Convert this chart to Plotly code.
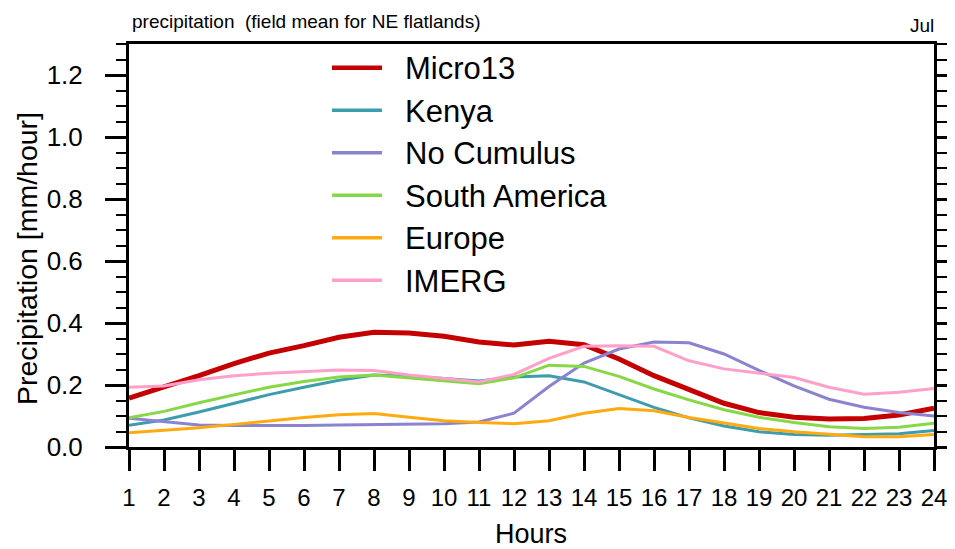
import plotly.graph_objects as go

hours = list(range(1, 25))
x_tick_labels = [str(h) for h in hours]

series_names = ["Micro13", "Kenya", "No Cumulus", "South America", "Europe", "IMERG"]
micro13 = [0.158, 0.193, 0.230, 0.269, 0.303, 0.327, 0.354, 0.370, 0.368, 0.357, 0.339, 0.329,
           0.341, 0.330, 0.284, 0.230, 0.184, 0.141, 0.111, 0.096, 0.090, 0.092, 0.103, 0.125]
kenya = [0.070, 0.087, 0.113, 0.141, 0.169, 0.193, 0.215, 0.232, 0.228, 0.221, 0.213, 0.226,
         0.230, 0.210, 0.168, 0.128, 0.094, 0.068, 0.049, 0.040, 0.038, 0.041, 0.043, 0.053]
no_cumulus = [0.093, 0.083, 0.071, 0.069, 0.068, 0.069, 0.071, 0.072, 0.073, 0.075, 0.081, 0.109,
              0.195, 0.271, 0.316, 0.339, 0.336, 0.300, 0.247, 0.197, 0.154, 0.128, 0.111, 0.100]
south_america = [0.094, 0.115, 0.143, 0.169, 0.193, 0.211, 0.226, 0.232, 0.223, 0.213, 0.204, 0.223,
                 0.264, 0.260, 0.228, 0.187, 0.152, 0.120, 0.096, 0.079, 0.065, 0.060, 0.064, 0.077]
europe = [0.046, 0.053, 0.062, 0.073, 0.085, 0.095, 0.104, 0.108, 0.096, 0.085, 0.079, 0.075,
          0.085, 0.109, 0.124, 0.117, 0.095, 0.077, 0.060, 0.049, 0.040, 0.033, 0.033, 0.040]
imerg = [0.193, 0.197, 0.217, 0.230, 0.238, 0.244, 0.248, 0.247, 0.232, 0.221, 0.210, 0.234,
         0.286, 0.325, 0.327, 0.325, 0.278, 0.252, 0.238, 0.224, 0.193, 0.170, 0.177, 0.189]

series_values = [micro13, kenya, no_cumulus, south_america, europe, imerg]
colors = ["#C40000", "#3D9DAD", "#8A84D0", "#86D846", "#FFAA10", "#FFA0CA"]
widths = [5, 3, 3, 3, 3, 3]
legend_widths = [4.5, 3.5, 3.5, 3.5, 3.5, 3.5]

FONT = "Liberation Sans, Arial, Helvetica, sans-serif"

fig = go.Figure()
for name, vals, c, w in zip(series_names, series_values, colors, widths):
    fig.add_trace(go.Scatter(x=hours, y=vals, mode="lines", name=name,
                             line=dict(color=c, width=w), showlegend=False))

# The page body has an 8px margin: lay the figure out in page pixels minus that offset.
OFF = 8
PAGE_W, PAGE_H = 955, 549
W, H = PAGE_W - OFF, PAGE_H - OFF
# plot area in page pixels: x 129..934, y 44..447
L = 129 - OFF
T = 44 - OFF
R = W - (934 - OFF)
B = H - (447 - OFF)
pw, ph = W - L - R, H - T - B

def px(page_x):
    return (page_x - OFF - L) / pw

def py(page_y):
    return (H - B - (page_y - OFF)) / ph

# custom legend (long line samples, as in the reference)
leg_y = [67.7, 110.2, 152.7, 195.2, 237.7, 280.2]
shapes = []
annotations = []
for name, c, lw, yy in zip(series_names, colors, legend_widths, leg_y):
    shapes.append(dict(type="line", xref="paper", yref="paper",
                       x0=px(332), x1=px(382), y0=py(yy), y1=py(yy),
                       line=dict(color=c, width=lw)))
    annotations.append(dict(text=name, xref="paper", yref="paper",
                            x=px(403), y=py(yy + 1),
                            xanchor="left", yanchor="middle", showarrow=False,
                            font=dict(family=FONT, size=31, color="black")))

annotations.append(dict(text="precipitation\u00a0 (field mean for NE flatlands)",
                        xref="paper", yref="paper", x=px(130), y=py(21),
                        xanchor="left", yanchor="middle", showarrow=False,
                        font=dict(family=FONT, size=19, color="black")))
annotations.append(dict(text="Jul", xref="paper", yref="paper",
                        x=px(936), y=py(25),
                        xanchor="right", yanchor="middle", showarrow=False,
                        font=dict(family=FONT, size=19, color="black")))
annotations.append(dict(text="Precipitation [mm/hour]", xref="paper", yref="paper",
                        x=px(27), y=py(259), textangle=-90,
                        xanchor="center", yanchor="middle", showarrow=False,
                        font=dict(family=FONT, size=28.5, color="black")))
annotations.append(dict(text="Hours", xref="paper", yref="paper",
                        x=px(531), y=py(534),
                        xanchor="center", yanchor="middle", showarrow=False,
                        font=dict(family=FONT, size=27, color="black")))

fig.update_layout(
    width=W, height=H,
    margin=dict(l=L, r=R, t=T, b=B, autoexpand=False),
    plot_bgcolor="white", paper_bgcolor="white",
    font=dict(family=FONT, color="black"),
    shapes=shapes, annotations=annotations,
    showlegend=False,
)
fig.update_xaxes(
    range=[1, 24], tickmode="array", tickvals=hours, ticktext=x_tick_labels,
    showgrid=False, zeroline=False,
    showline=True, linecolor="black", linewidth=3, mirror=True,
    ticks="outside", ticklen=21, tickwidth=3, tickcolor="black",
    tickfont=dict(family=FONT, size=24, color="black"), ticklabelstandoff=6,
)
fig.update_yaxes(
    range=[0, 1.3], tick0=0, dtick=0.2, tickformat=".1f",
    showgrid=False, zeroline=False,
    showline=True, linecolor="black", linewidth=3, mirror="ticks",
    ticks="outside", ticklen=21, tickwidth=3, tickcolor="black",
    minor=dict(dtick=0.05, tick0=0, ticks="outside", ticklen=10, tickwidth=2,
               tickcolor="black", showgrid=False),
    tickfont=dict(family=FONT, size=26, color="black"), ticklabelstandoff=17,
)

fig.write_html("out.html")
